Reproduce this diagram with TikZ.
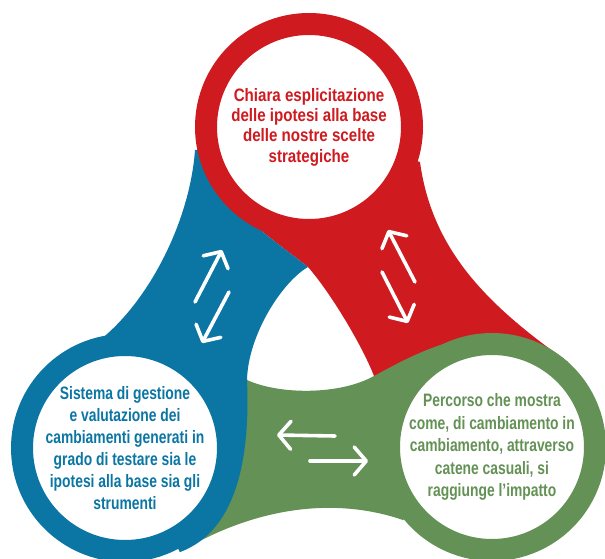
\documentclass[tikz,border=0pt]{standalone}
\usepackage{fontspec}
\setmainfont{Liberation Sans}
\newfontfamily\widesans{Liberation Sans}[FakeStretch=0.84]
\newfontfamily\narrowsans{Liberation Sans}[FakeStretch=0.77]
\usepackage{tikz}
\usetikzlibrary{arrows.meta, positioning}

\definecolor{cred}{RGB}{207,26,32}
\definecolor{cblue}{RGB}{11,118,163}
\definecolor{cgreen}{RGB}{100,145,85}

\begin{document}
\begin{tikzpicture}[x=1pt, y=-1pt]

\tikzstyle{ring}=[circle, draw=#1, text=#1, fill=white, line width=22pt, minimum size=206pt, inner sep=0pt, align=center]
\tikzstyle{arr}=[draw=white, line width=3.6pt, line cap=round, -{Straight Barb[length=12pt, width=28pt, round]}]

\useasboundingbox (0,0) rectangle (605,559);

%% bands between the circles
\fill[cred] (309,127) -- (420,162) .. controls (432,250) and (487,305) .. (568,362) -- (492,447) -- (374,376) .. controls (362,345) and (330,292) .. (308,267) .. controls (280,245) and (250,225) .. (225,195) -- cycle;
\fill[cgreen] (492,447) -- (470,337) .. controls (430,345) and (400,362) .. (374,376) .. controls (340,395) and (280,395) .. (247,380) -- (125,448) -- (180,552) .. controls (250,510) and (330,495) .. (403,520) -- cycle;
\fill[cblue] (215,150) -- (195,150) .. controls (190,220) and (150,300) .. (100,340) -- (125,448) -- (180,552) .. controls (240,530) and (250,450) .. (247,380) .. controls (248,335) and (282,282) .. (308,267) .. controls (280,245) and (250,225) .. (225,195) -- cycle;

%% circles
\node (ipotesi) at (309,127) [ring=cred, font=\widesans\bfseries\fontsize{18}{20.3}\selectfont] {Chiara esplicitazione\\delle ipotesi alla base\\delle nostre scelte\\strategiche};
\node (sistema) at (125,448) [ring=cblue, font=\narrowsans\bfseries\fontsize{18}{22}\selectfont] {Sistema di gestione\\e valutazione dei\\cambiamenti generati in\\grado di testare sia le\\ipotesi alla base sia gli\\strumenti};
\node (percorso) at (492,447) [ring=cgreen, font=\narrowsans\bfseries\fontsize{18}{22.5}\selectfont] {Percorso che mostra\\come, di cambiamento in\\cambiamento, attraverso\\catene casuali, si\\raggiunge l’impatto};

%% double arrows
\coordinate (b1) at (195,302);
\coordinate (b2) at (222,250);
\coordinate (b3) at (229,292);
\coordinate (b4) at (202,343);
\coordinate (r1) at (415,282);
\coordinate (r2) at (388,230);
\coordinate (r3) at (382,272);
\coordinate (r4) at (408,323);
\coordinate (g1) at (335,436);
\coordinate (g2) at (277,435);
\coordinate (g3) at (310,461);
\coordinate (g4) at (368,461);

\draw[arr] (b1) -- (b2);
\draw[arr] (b3) -- (b4);
\draw[arr] (r1) -- (r2);
\draw[arr] (r3) -- (r4);
\draw[arr] (g1) -- (g2);
\draw[arr] (g3) -- (g4);

\end{tikzpicture}
\end{document}
